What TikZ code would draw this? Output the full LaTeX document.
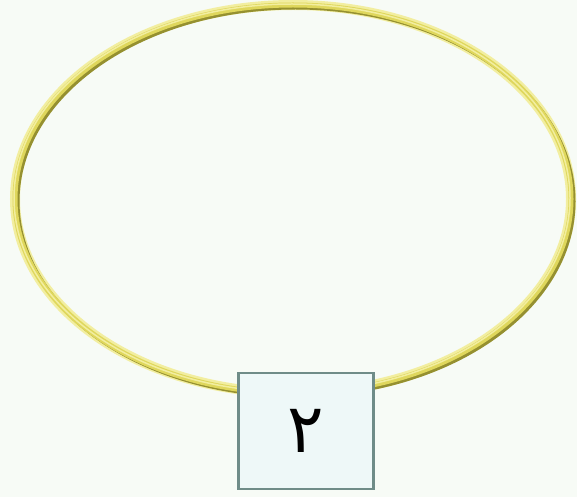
\documentclass[tikz,border=0pt]{standalone}
\usepackage{fontspec}
\newfontfamily\arabicfont[Script=Arabic]{DejaVu Sans}
\TeXXeTstate=1
\definecolor{bgpaper}{HTML}{F7FBF6}
\definecolor{ringdark}{HTML}{959030}
\definecolor{ringgold}{HTML}{DFD75C}
\definecolor{ringlight}{HTML}{F2EEA0}
\definecolor{boxline}{HTML}{6F8C88}
\definecolor{boxfill}{HTML}{EEF8F8}
\tikzset{
  numbox/.style={draw=boxline,line width=2.4pt,fill=boxfill,
    minimum width=135pt,minimum height=116pt,inner sep=0pt,
    font=\arabicfont\fontsize{68}{68}\selectfont}
}
\begin{document}
\begin{tikzpicture}[x=1pt,y=-1pt]
  \fill[bgpaper] (0,0) rectangle (577,497);
  \useasboundingbox (0,0) rectangle (577,497);
  % ring, lit from the upper left
  \draw[ringlight,line width=10pt] (293,199) ellipse [x radius=278,y radius=194];
  \draw[ringdark,line width=4pt] (295.5,201.5) ellipse [x radius=278,y radius=194];
  \draw[ringgold,line width=5pt] (293,199) ellipse [x radius=278,y radius=194];
  \draw[ringlight,line width=1.5pt] (292,198) ellipse [x radius=278,y radius=194];
  % number box
  \node[numbox] (two) at (306,431) {\raisebox{-2pt}{\beginR ٢\endR}};
\end{tikzpicture}
\end{document}
